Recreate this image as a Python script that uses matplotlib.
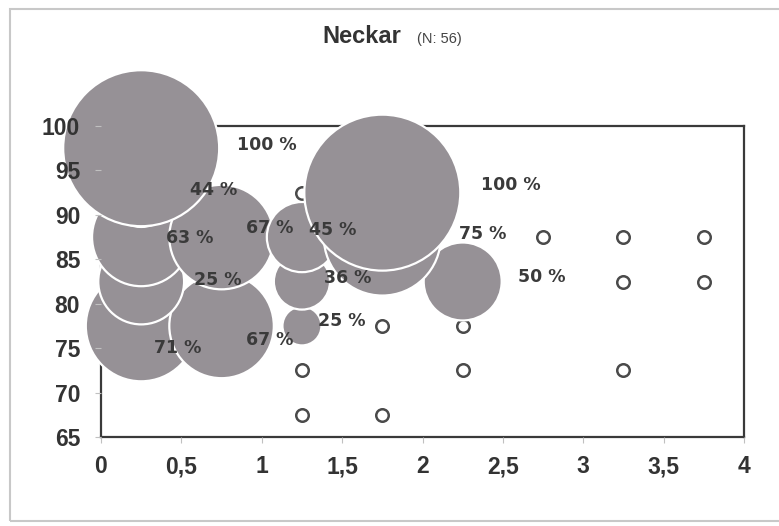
import matplotlib
matplotlib.use("Agg")
import matplotlib.pyplot as plt
from matplotlib.patches import Rectangle

# ---- data ----
# filled bubbles (x class, y class, share in %), listed bottom row first
bub_x = [0.25, 0.75, 1.25, 0.25, 1.25, 2.25, 0.25, 0.75, 1.25, 1.75, 0.25, 1.75, 0.25]
bub_y = [77.5, 77.5, 77.5, 82.5, 82.5, 82.5, 87.5, 87.5, 87.5, 87.5, 92.5, 92.5, 97.5]
bub_pct = [71, 67, 25, 55, 36, 50, 63, 67, 45, 75, 44, 100, 100]

# empty classes (0 %)
zero_x = [1.25, 1.25, 1.25, 1.75, 1.75, 2.25, 2.25, 2.75, 3.25, 3.75, 3.25, 3.75, 3.25]
zero_y = [92.5, 72.5, 67.5, 77.5, 67.5, 77.5, 72.5, 87.5, 87.5, 87.5, 82.5, 82.5, 72.5]

# percentage labels as printed in the chart
lab_text = ["100 %", "44 %", "100 %", "63 %", "67 %", "45 %", "75 %",
            "25 %", "36 %", "50 %", "25 %", "71 %", "67 %"]
lab_x = [1.033, 0.703, 2.551, 0.554, 1.051, 1.443, 2.376,
         0.728, 1.537, 2.743, 1.499, 0.479, 1.051]
lab_y = [97.86, 92.80, 93.36, 87.40, 88.52, 88.30, 87.85,
         82.67, 82.89, 83.01, 78.06, 75.02, 75.92]

x_ticks = [0, 0.5, 1, 1.5, 2, 2.5, 3, 3.5, 4]
x_ticklabels = ["0", "0,5", "1", "1,5", "2", "2,5", "3", "3,5", "4"]
y_ticks = [65, 70, 75, 80, 85, 90, 95, 100]

title_main = "Neckar"
title_sub = "(N: 56)"

# ---- figure ----
W, H = 779, 526
fig = plt.figure(figsize=(W / 100, H / 100), dpi=100)
fig.patch.set_facecolor("white")

# outer chart frame (right side runs off the page)
fig.add_artist(Rectangle((10 / W, 1 - 521 / H), 1.2, (521 - 9) / H,
                         transform=fig.transFigure, fill=False,
                         edgecolor="#c8c8c8", linewidth=1.5))

ax = fig.add_axes([101 / W, 1 - 437 / H, (744 - 101) / W, (437 - 126) / H])
ax.set_xlim(0, 4)
ax.set_ylim(65, 100)

for sp in ax.spines.values():
    sp.set_color("#3a3a3a")
    sp.set_linewidth(1.6)
    sp.set_zorder(0.5)

# empty-class markers
ax.plot(zero_x, zero_y, linestyle="none", marker="o", markersize=9,
        markerfacecolor="white", markeredgecolor="#4a4a4a",
        markeredgewidth=1.8, zorder=0.8, clip_on=False)

# bubbles: diameter proportional to share
max_diam_pt = 112.3
sizes = [(p / 100 * max_diam_pt) ** 2 for p in bub_pct]
ax.scatter(bub_x, bub_y, s=sizes, c="#969196", edgecolors="white",
           linewidths=1.6, zorder=1, clip_on=False)

for t, lx, ly in zip(lab_text, lab_x, lab_y):
    ax.text(lx, ly, t, ha="center", va="center", fontsize=12.5,
            fontweight="bold", family="DejaVu Sans", color="#3a3a3a",
            zorder=3, clip_on=False)

ax.set_xticks(x_ticks)
ax.set_xticklabels(x_ticklabels)
ax.set_yticks(y_ticks)
ax.tick_params(axis="both", direction="out", length=4, width=0.8,
               color="#c0c0c0", labelcolor="#333333", labelsize=16.5)
ax.tick_params(axis="x", pad=9)
ax.tick_params(axis="y", pad=11)
for lbl in ax.get_xticklabels() + ax.get_yticklabels():
    lbl.set_fontfamily("Liberation Sans")
    lbl.set_fontweight("bold")

fig.text(322 / W, 1 - 43 / H, title_main, ha="left", va="baseline",
         fontsize=17, fontweight="bold", family="Liberation Sans",
         color="#333333")
fig.text(417 / W, 1 - 43 / H, title_sub, ha="left", va="baseline",
         fontsize=10.5, family="Liberation Sans", color="#444444")

fig.savefig("out.png", dpi=100, facecolor="white")
